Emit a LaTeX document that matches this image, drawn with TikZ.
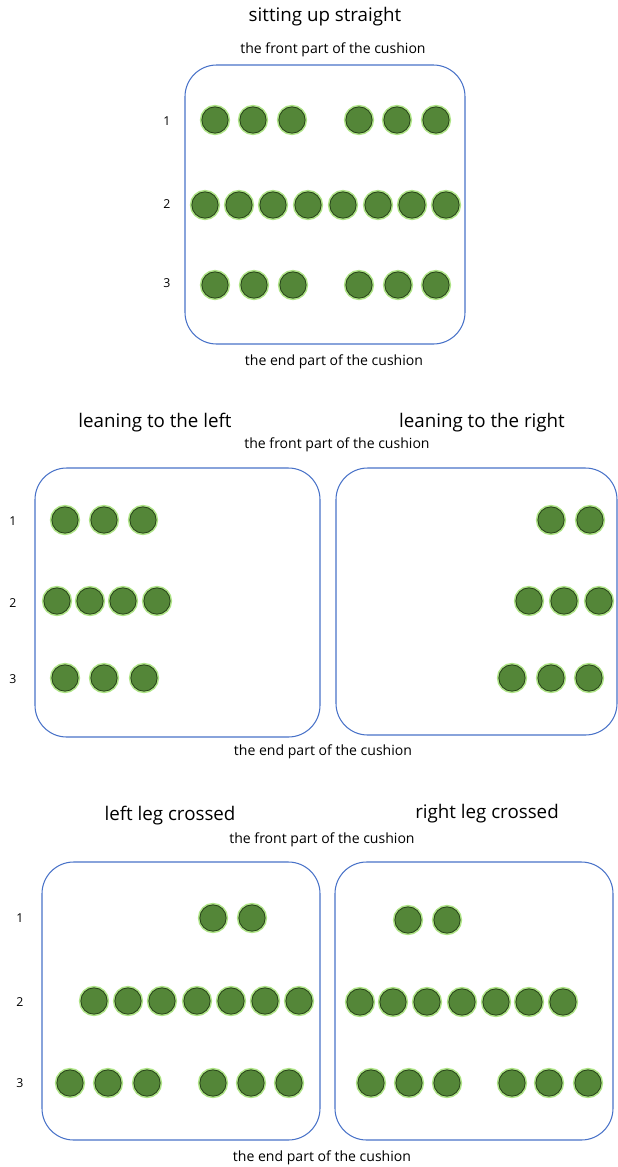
\documentclass[tikz,border=0pt]{standalone}
\usepackage{fontspec}
\setmainfont{Open Sans}
\usepackage{tikz}
\usetikzlibrary{positioning}
\definecolor{beadgreen}{RGB}{84,134,56}
\definecolor{beaddark}{RGB}{40,68,26}
\definecolor{beadglow}{RGB}{175,228,135}
\definecolor{cushblue}{RGB}{72,114,200}
\tikzset{
  cushion/.style = {draw=cushblue, line width=0.9pt, rounded corners=0.95cm},
  bead/.style    = {circle, minimum size=7.9mm, inner sep=0pt,
                    fill=beadgreen, draw=beaddark, line width=0.7pt,
                    preaction={draw=beadglow, line width=3.4pt}},
  title/.style   = {font=\fontsize{16}{18}\selectfont, inner sep=1pt},
  side/.style    = {font=\fontsize{12}{14}\selectfont, inner sep=1pt},
  rowno/.style   = {font=\fontsize{10.5}{12}\selectfont, inner sep=1pt},
}
\begin{document}
\begin{tikzpicture}[x=0.03cm, y=-0.03cm]
  \useasboundingbox (0,0) rectangle (618,1167);

  % ---------- sitting up straight ------------------------------------
  \node[title] (t1) at (325,17) {sitting up straight};
  \node[side] (f1) at (333,50) {the front part of the cushion};
  \draw[cushion] (185,65) rectangle (465,344);
  \node[side] (e1) at (334,362) {the end part of the cushion};
  \foreach \y [count=\r] in {121,204,283}
    \node[rowno] (n1-\r) at (167,\y) {\r};
  \foreach \x [count=\i] in {215,253,292,359,397,436}
    \node[bead] (a1-\i) at (\x,120) {};
  \foreach \x [count=\i] in {205,239,273,308,343,378,412,446}
    \node[bead] (a2-\i) at (\x,205) {};
  \foreach \x [count=\i] in {215,254,293,359,398,436}
    \node[bead] (a3-\i) at (\x,285) {};

  % ---------- leaning to the left / right ----------------------------
  \node[title] (t2) at (155,423) {leaning to the left};
  \node[title] (t3) at (482,423) {leaning to the right};
  \node[side] (f2) at (337,445) {the front part of the cushion};
  \draw[cushion] (35,468) rectangle (320,737);
  \draw[cushion] (336,468) rectangle (617,735);
  \node[side] (e2) at (323,752) {the end part of the cushion};
  \foreach \y [count=\r] in {521,603,679}
    \node[rowno] (n2-\r) at (13,\y) {\r};
  % left
  \foreach \x [count=\i] in {65,104,143}
    \node[bead] (b1-\i) at (\x,520) {};
  \foreach \x [count=\i] in {57,90,123,157}
    \node[bead] (b2-\i) at (\x,601) {};
  \foreach \x [count=\i] in {65,104,144}
    \node[bead] (b3-\i) at (\x,678) {};
  % right
  \foreach \x [count=\i] in {551,590}
    \node[bead] (c1-\i) at (\x,520) {};
  \foreach \x [count=\i] in {529,564,599}
    \node[bead] (c2-\i) at (\x,601) {};
  \foreach \x [count=\i] in {512,551,589}
    \node[bead] (c3-\i) at (\x,678) {};

  % ---------- left / right leg crossed -------------------------------
  \node[title] (t4) at (170,816) {left leg crossed};
  \node[title] (t5) at (487,814) {right leg crossed};
  \node[side] (f3) at (322,840) {the front part of the cushion};
  \draw[cushion] (42,862) rectangle (320,1140);
  \draw[cushion] (335,862) rectangle (613,1140);
  \node[side] (e3) at (322,1158) {the end part of the cushion};
  \foreach \y [count=\r] in {918,1002,1083}
    \node[rowno] (n3-\r) at (20,\y) {\r};
  % left
  \foreach \x [count=\i] in {213,252}
    \node[bead] (d1-\i) at (\x,918) {};
  \foreach \x [count=\i] in {94,128,162,197,231,265,299}
    \node[bead] (d2-\i) at (\x,1001) {};
  \foreach \x [count=\i] in {70,108,147,213,251,289}
    \node[bead] (d3-\i) at (\x,1083) {};
  % right
  \foreach \x [count=\i] in {408,447}
    \node[bead] (g1-\i) at (\x,920) {};
  \foreach \x [count=\i] in {360,393,427,462,496,529,563}
    \node[bead] (g2-\i) at (\x,1002) {};
  \foreach \x [count=\i] in {371,409,447,512,549,588}
    \node[bead] (g3-\i) at (\x,1083) {};
\end{tikzpicture}
\end{document}
